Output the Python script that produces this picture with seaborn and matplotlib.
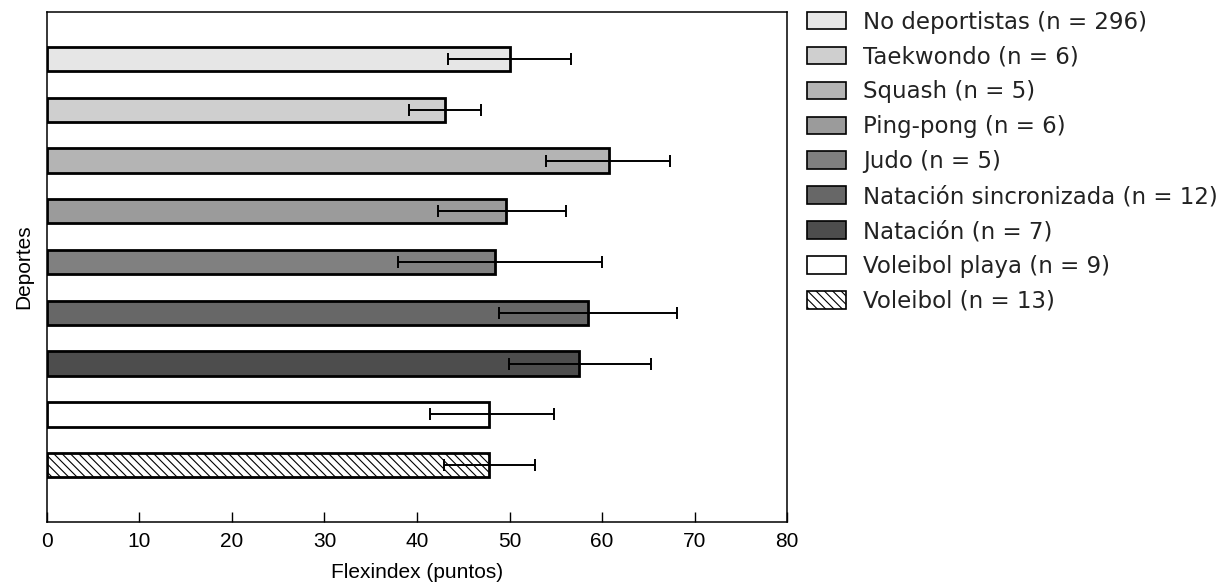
import numpy as np
import pandas as pd
import matplotlib
matplotlib.use("Agg")
import matplotlib.pyplot as plt
from matplotlib.patches import Patch
import seaborn as sns

# ─── Data ────────────────────────────────────────────────────────────────────
deportes = [
    "No deportistas (n = 296)",
    "Taekwondo (n = 6)",
    "Squash (n = 5)",
    "Ping-pong (n = 6)",
    "Judo (n = 5)",
    "Natación sincronizada (n = 12)",
    "Natación (n = 7)",
    "Voleibol playa (n = 9)",
    "Voleibol (n = 13)",
]
flexindex = [50.1, 43.0, 60.7, 49.6, 48.4, 58.5, 57.5, 47.8, 47.8]
err_low   = [6.7, 3.9, 6.8, 7.3, 10.4, 9.6, 7.6, 6.4, 4.9]
err_high  = [6.5, 3.9, 6.6, 6.5, 11.6, 9.6, 7.8, 7.0, 5.0]

colores = ["#e6e6e6", "#cfcfcf", "#b4b4b4", "#9b9b9b", "#808080",
           "#676767", "#4d4d4d", "#ffffff", "#ffffff"]
hatches = ["", "", "", "", "", "", "", "", "\\\\\\\\"]

df = pd.DataFrame({"deporte": deportes, "flexindex": flexindex})

# ─── Plot ────────────────────────────────────────────────────────────────────
sns.set_style("white")
plt.rcParams["font.family"] = ["Liberation Sans", "DejaVu Sans"]
plt.rcParams["hatch.linewidth"] = 0.8

fig = plt.figure(figsize=(12.29, 5.85), dpi=100)
ax = fig.add_axes([0.0382, 0.1077, 0.6022, 0.8718])

sns.barplot(
    data=df, y="deporte", x="flexindex", hue="deporte",
    palette=dict(zip(deportes, colores)), order=deportes,
    orient="h", width=0.48, dodge=False, legend=False,
    edgecolor="black", linewidth=2.0, ax=ax,
)
for bar, h in zip(ax.patches, hatches):
    bar.set_hatch(h)

ax.errorbar(
    flexindex, np.arange(len(deportes)),
    xerr=[err_low, err_high], fmt="none",
    ecolor="black", elinewidth=1.4, capsize=4.4, capthick=1.4, zorder=5,
)

ax.set_xlim(0, 80)
ax.set_ylim(len(deportes) - 1 + 1.12, -0.925)
ax.set_xticks(range(0, 81, 10))
ax.set_yticks([])
ax.tick_params(axis="x", bottom=True, direction="in", length=7, width=1,
               labelsize=15, pad=7, colors="black")
for sp in ax.spines.values():
    sp.set_color("black")
    sp.set_linewidth(1.1)

ax.set_xlabel("Flexindex (puntos)", fontsize=15, labelpad=9, color="black")
ax.set_ylabel("Deportes", fontsize=15, labelpad=10, color="black")

handles = [
    Patch(facecolor=c, edgecolor="black", hatch=h, linewidth=1.2, label=d)
    for d, c, h in zip(deportes, colores, hatches)
]
leg = fig.legend(
    handles=handles, loc="upper left", bbox_to_anchor=(0.6566, 0.982),
    frameon=False, borderpad=0, borderaxespad=0,
    handlelength=1.7, handleheight=0.8,
    handletextpad=0.74, labelspacing=0.52,
    prop={"family": "DejaVu Sans", "size": 16.5},
)
for t in leg.get_texts():
    t.set_color("#222222")

fig.savefig("out.png", dpi=100)
